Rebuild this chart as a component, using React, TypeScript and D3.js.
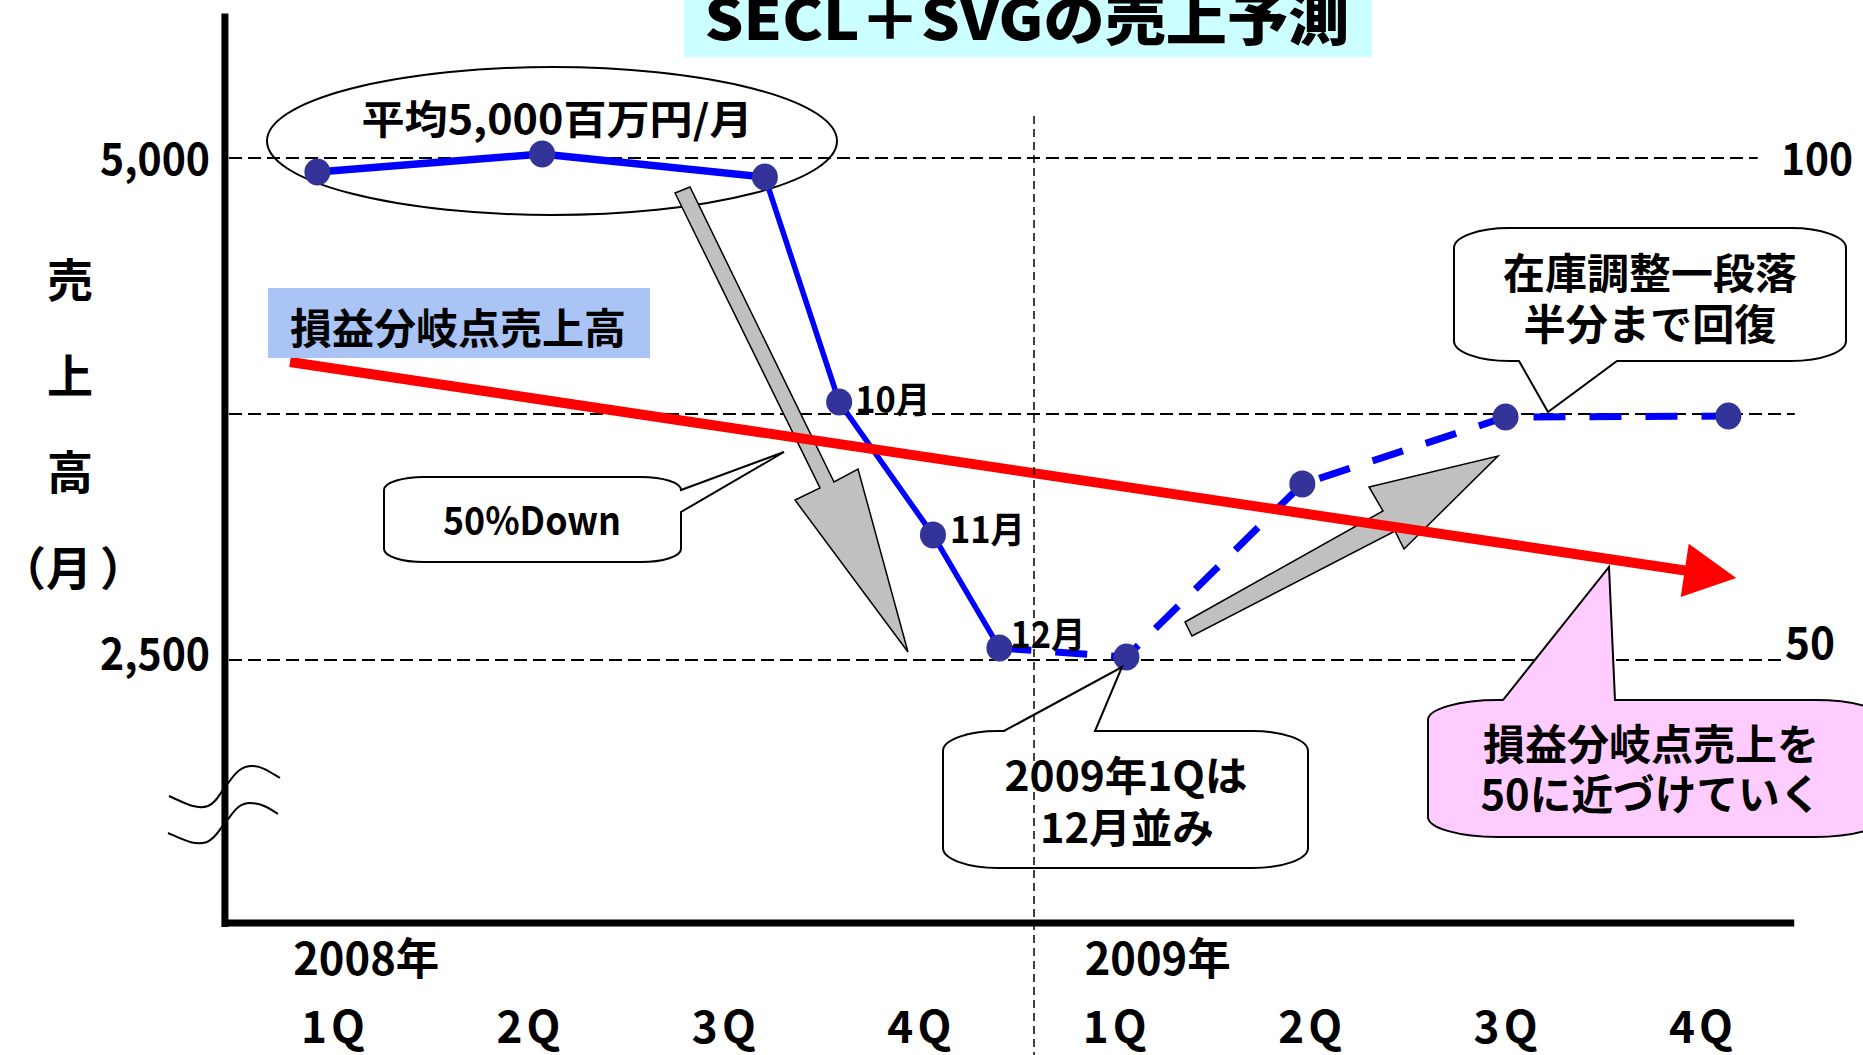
import React from "react";
import * as d3 from "d3";

const FONT = "'Noto Sans CJK JP', 'Noto Sans', sans-serif";

// ---------- data ----------
const titleText = "SECL＋SVGの売上予測";
const quarterLabels = ["1Q", "2Q", "3Q", "4Q", "1Q", "2Q", "3Q", "4Q"];
const yearLabels = ["2008年", "2009年"];
const yearLabelPos = [0.17, 4.22];

const actualPos = [-0.08, 1.07, 2.21, 2.59, 3.07, 3.41];
const actualValues = [4930, 5020, 4905, 3785, 3123, 2560];
const monthLabels = ["10月", "11月", "12月"];
const monthIndex = [3, 4, 5];

const forecastPos = [3.41, 4.06, 4.96, 6.0, 7.14];
const forecastValues = [2560, 2515, 3377, 3710, 3715];

const breakEvenPos = [-0.22, 7.18];
const breakEvenValues = [3984, 2908];

const gridValues = [5000, 3725, 2500];
const gridEndPos = [7.29, 7.48, 7.43];
const leftTickLabels = ["5,000", "", "2,500"];
const rightTickLabels = ["100", "", "50"];

const yTitleChars = ["売", "上", "高"];
const yTitleUnit = ["（", "月", "）"];

// ---------- layout ----------
const W = 1863;
const H = 1055;
const x = d3.scaleLinear().domain([0, 7]).range([333, 1701]);
const y = d3.scaleLinear().domain([2500, 5000]).range([660, 158]);
const AXIS_X_START = -0.553;
const AXIS_X_END = 7.477;
const AXIS_Y_TOP = 5720;
const AXIS_Y_BOTTOM = 1190;

const monthLabelOffset = [
  [16, 11],
  [17, 8],
  [11, 0],
];
const unitCharX = [0, 46, 100];

function calloutPath(
  x0: number, y0: number, x1: number, y1: number,
  rx: number, ry: number, side: string, a: number, b: number, tx: number, ty: number
) {
  let p = `M${x0 + rx},${y0}`;
  if (side === "top") p += ` L${a},${y0} L${tx},${ty} L${b},${y0}`;
  p += ` L${x1 - rx},${y0} A${rx},${ry} 0 0 1 ${x1},${y0 + ry}`;
  if (side === "right") p += ` L${x1},${a} L${tx},${ty} L${x1},${b}`;
  p += ` L${x1},${y1 - ry} A${rx},${ry} 0 0 1 ${x1 - rx},${y1}`;
  if (side === "bottom") p += ` L${b},${y1} L${tx},${ty} L${a},${y1}`;
  p += ` L${x0 + rx},${y1} A${rx},${ry} 0 0 1 ${x0},${y1 - ry}`;
  p += ` L${x0},${y0 + ry} A${rx},${ry} 0 0 1 ${x0 + rx},${y0} Z`;
  return p;
}

export default function App() {
  const line = d3
    .line<[number, number]>()
    .x((d) => x(d[0]))
    .y((d) => y(d[1]));

  const actual: [number, number][] = actualPos.map((p, i) => [p, actualValues[i]]);
  const forecast: [number, number][] = forecastPos.map((p, i) => [p, forecastValues[i]]);

  // break-even arrow geometry
  const bx0 = x(breakEvenPos[0]);
  const by0 = y(breakEvenValues[0]);
  const bx1 = x(breakEvenPos[1]);
  const by1 = y(breakEvenValues[1]);
  const len = Math.hypot(bx1 - bx0, by1 - by0);
  const ux = (bx1 - bx0) / len;
  const uy = (by1 - by0) / len;
  const headL = 52;
  const headW = 27;
  const hbx = bx1 - ux * headL;
  const hby = by1 - uy * headL;
  const headPts = [
    [bx1, by1],
    [hbx - uy * headW, hby + ux * headW],
    [hbx + uy * headW, hby - ux * headW],
  ];

  const textStyle = { fontFamily: FONT, fontWeight: 700, fill: "#000" } as const;

  return (
    <svg
      width={W}
      height={H}
      style={{ position: "absolute", left: 0, top: 0, background: "#fff" }}
      xmlns="http://www.w3.org/2000/svg"
    >
      <rect x={0} y={0} width={W} height={H} fill="#fff" />

      {/* title */}
      <rect x={684} y={0} width={688} height={57} fill="#CCFFFF" />
      <text x={1027} y={40} textAnchor="middle" fontSize={56} textLength={645}
        lengthAdjust="spacingAndGlyphs" style={{ ...textStyle, fontWeight: 900 }}>
        {titleText}
      </text>

      {/* gridlines */}
      {gridValues.map((v, i) => (
        <line key={"g" + i} x1={229} x2={x(gridEndPos[i])} y1={y(v)} y2={y(v)}
          stroke="#000" strokeWidth={2} strokeDasharray="13 6" />
      ))}
      {leftTickLabels.map((t, i) =>
        t ? (
          <text key={"lt" + i} x={210} y={y(gridValues[i]) + (i === 0 ? 17 : 10)} textAnchor="end"
            fontSize={44} textLength={110} lengthAdjust="spacingAndGlyphs" style={textStyle}>
            {t}
          </text>
        ) : null
      )}
      {rightTickLabels.map((t, i) =>
        t ? (
          <text key={"rt" + i} x={i === 0 ? 1781 : 1785} y={y(gridValues[i]) + (i === 0 ? 17 : -1)}
            textAnchor="start" fontSize={44} textLength={i === 0 ? 72 : 50}
            lengthAdjust="spacingAndGlyphs" style={textStyle}>
            {t}
          </text>
        ) : null
      )}

      {/* y title */}
      {yTitleChars.map((c, i) => (
        <text key={"yt" + i} x={70} y={297 + i * 96} textAnchor="middle" fontSize={46} style={textStyle}>
          {c}
        </text>
      ))}
      <text y={297 + 3 * 96} fontSize={46} style={textStyle}>
        {yTitleUnit.map((c, i) => (
          <tspan key={"u" + i} x={unitCharX[i]}>{c}</tspan>
        ))}
      </text>

      {/* ellipse */}
      <ellipse cx={552} cy={141} rx={285} ry={74} fill="none" stroke="#000" strokeWidth={2} />

      {/* gray arrows */}
      <polygon
        points="675,193 690,187 834,482 858,469 908,652 795,500 820,488"
        fill="#C0C0C0" stroke="#000" strokeWidth={1.5} strokeLinejoin="miter" />
      <polygon
        points="1185,622 1383,511 1369,487 1498,456 1404,549 1395,531 1192,636"
        fill="#C0C0C0" stroke="#000" strokeWidth={1.5} strokeLinejoin="miter" />

      {/* blue lines */}
      <path d={line(actual.slice(0, 3)) || ""} fill="none" stroke="#0000FF" strokeWidth={7.5} strokeLinejoin="round" />
      <path d={line(actual.slice(2)) || ""} fill="none" stroke="#0000FF" strokeWidth={5.5} strokeLinejoin="round" />
      <path d={line(forecast) || ""} fill="none" stroke="#0000FF" strokeWidth={7}
        strokeDasharray="32 24" />

      {/* markers */}
      {actual.concat(forecast.slice(1)).map((d, i) => (
        <ellipse key={"m" + i} cx={x(d[0])} cy={y(d[1])} rx={13} ry={13.5} fill="#333399" />
      ))}

      {/* month labels */}
      {monthLabels.map((t, i) => {
        const d = actual[monthIndex[i]];
        return (
          <text key={"ml" + i} x={x(d[0]) + monthLabelOffset[i][0]} y={y(d[1]) + monthLabelOffset[i][1]}
            fontSize={36} textLength={75} lengthAdjust="spacingAndGlyphs" style={textStyle}>
            {t}
          </text>
        );
      })}

      {/* break-even line */}
      <line x1={bx0} y1={by0} x2={hbx + ux * 2} y2={hby + uy * 2} stroke="#FF0000" strokeWidth={10} />
      <polygon points={headPts.map((p) => p.join(",")).join(" ")} fill="#FF0000" />

      {/* blue label box */}
      <rect x={268} y={288} width={382} height={70} fill="#A9C4F5" />
      <text x={458} y={344} textAnchor="middle" fontSize={42} textLength={336}
        lengthAdjust="spacingAndGlyphs" style={textStyle}>
        損益分岐点売上高
      </text>

      {/* ellipse text */}
      <text x={557} y={134} textAnchor="middle" fontSize={40} textLength={391}
        lengthAdjust="spacingAndGlyphs" style={textStyle}>
        平均5,000百万円/月
      </text>

      {/* callouts */}
      <path d={calloutPath(384, 477, 681, 562, 40, 13, "right", 490, 512, 784, 452)}
        fill="#fff" stroke="#000" strokeWidth={2} />
      <text x={532} y={535} textAnchor="middle" fontSize={39} textLength={178}
        lengthAdjust="spacingAndGlyphs" style={textStyle}>
        50%Down
      </text>

      <path d={calloutPath(943, 731, 1308, 868, 55, 20, "top", 1004, 1095, 1122, 667)}
        fill="#fff" stroke="#000" strokeWidth={2} />
      <text x={1126} y={791} textAnchor="middle" fontSize={41} textLength={243}
        lengthAdjust="spacingAndGlyphs" style={textStyle}>
        2009年1Qは
      </text>
      <text x={1127} y={843} textAnchor="middle" fontSize={41} textLength={174}
        lengthAdjust="spacingAndGlyphs" style={textStyle}>
        12月並み
      </text>

      <path d={calloutPath(1454, 228, 1846, 361, 55, 20, "bottom", 1519, 1617, 1548, 412)}
        fill="#fff" stroke="#000" strokeWidth={2} />
      <text x={1650} y={289} textAnchor="middle" fontSize={42} textLength={294}
        lengthAdjust="spacingAndGlyphs" style={textStyle}>
        在庫調整一段落
      </text>
      <text x={1650} y={340} textAnchor="middle" fontSize={42} textLength={253}
        lengthAdjust="spacingAndGlyphs" style={textStyle}>
        半分まで回復
      </text>

      <path d={calloutPath(1428, 700, 1885, 837, 70, 20, "top", 1503, 1615, 1609, 567)}
        fill="#FFCCFF" stroke="#000" strokeWidth={2} />
      <text x={1651} y={760} textAnchor="middle" fontSize={42} textLength={336}
        lengthAdjust="spacingAndGlyphs" style={textStyle}>
        損益分岐点売上を
      </text>
      <text x={1651} y={810} textAnchor="middle" fontSize={42} textLength={341}
        lengthAdjust="spacingAndGlyphs" style={textStyle}>
        50に近づけていく
      </text>

      {/* axes */}
      <line x1={x(AXIS_X_START)} x2={x(AXIS_X_START)} y1={y(AXIS_Y_TOP)} y2={y(AXIS_Y_BOTTOM) + 4}
        stroke="#000" strokeWidth={7} />
      <line x1={x(AXIS_X_START) - 3} x2={x(AXIS_X_END)} y1={y(AXIS_Y_BOTTOM)} y2={y(AXIS_Y_BOTTOM)}
        stroke="#000" strokeWidth={7} />

      {/* axis break marks */}
      <path d="M169,796 C185,803 196,810 208,806 C218,802 221,790 229,782 C236,772 242,766 252,766 C262,766 270,772 280,778"
        fill="none" stroke="#000" strokeWidth={2} />
      <path d="M168,833 C184,840 195,846 207,842 C217,838 221,826 229,818 C236,808 241,803 250,803 C261,803 269,808 278,814"
        fill="none" stroke="#000" strokeWidth={2} />

      {/* x labels */}
      {yearLabels.map((t, i) => (
        <text key={"yl" + i} x={x(yearLabelPos[i])} y={975} textAnchor="middle" fontSize={44}
          textLength={146} lengthAdjust="spacingAndGlyphs" style={textStyle}>
          {t}
        </text>
      ))}
      {quarterLabels.map((t, i) => (
        <text key={"ql" + i} x={x(i)} y={1043} textAnchor="middle" fontSize={44}
          textLength={64} lengthAdjust="spacing" style={textStyle}>
          {t}
        </text>
      ))}

      {/* vertical dashed separator */}
      <line x1={1034} x2={1034} y1={116} y2={H} stroke="#000" strokeWidth={1.5} strokeDasharray="8 5" />
    </svg>
  );
}
